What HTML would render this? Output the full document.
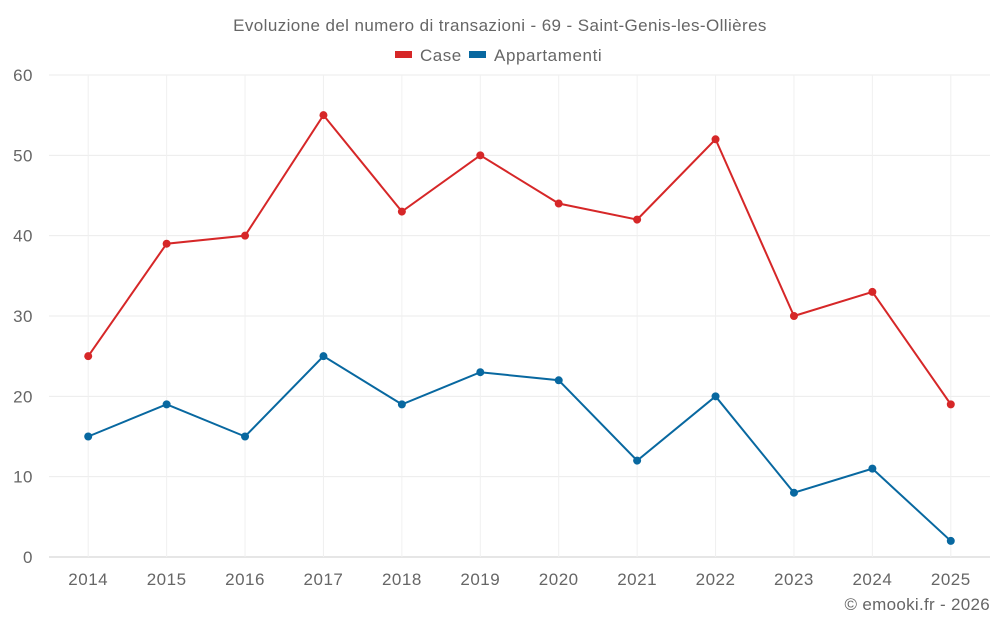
<!DOCTYPE html>
<html><head><meta charset="utf-8"><style>
body{margin:0;background:#fff;font-family:"Liberation Sans",sans-serif;}
svg text{font-family:"Liberation Sans",sans-serif;fill:#666;}
</style></head><body>
<svg id="chart" width="1000" height="625" xmlns="http://www.w3.org/2000/svg">
<text x="500" y="31" text-anchor="middle" font-size="17" letter-spacing="0.4">Evoluzione del numero di transazioni - 69 - Saint-Genis-les-Ollières</text>
<g>
<g><rect x="395" y="51" width="17" height="7" fill="#d62728"/><text x="420" y="61" font-size="17" letter-spacing="0.5">Case</text></g>
<g><rect x="469" y="51" width="17" height="7" fill="#0868a0"/><text x="494" y="61" font-size="17" letter-spacing="0.6">Appartamenti</text></g>
</g>
<g id="grid"></g><g id="axes"></g><g id="series"></g>
<text x="990" y="610" text-anchor="end" font-size="17" letter-spacing="0.3">© emooki.fr - 2026</text>
</svg>
<script>
const categories=["2014","2015","2016","2017","2018","2019","2020","2021","2022","2023","2024","2025"];
const caseValues=[25,39,40,55,43,50,44,42,52,30,33,19];
const apptValues=[15,19,15,25,19,23,22,12,20,8,11,2];
const yTicks=[0,10,20,30,40,50,60];
const NS="http://www.w3.org/2000/svg";
const L=49,R=990,T=75,B=557,yMax=60;
const bw=(R-L)/categories.length;
const x=i=>L+bw*(i+0.5);
const y=v=>B-(B-T)*v/yMax;
function mk(tag,attrs,parent){const e=document.createElementNS(NS,tag);for(const k in attrs)e.setAttribute(k,attrs[k]);parent.appendChild(e);return e;}
const grid=document.getElementById('grid'),axes=document.getElementById('axes'),ser=document.getElementById('series');
yTicks.forEach(t=>{
 const l=mk('line',{x1:L,x2:R,y1:y(t),y2:y(t),stroke:t===0?'#ccc':'#ebebeb'},grid);
 
 
 const tx=mk('text',{x:33,y:y(t)+6,'text-anchor':'end','font-size':17,'letter-spacing':0.5},axes);tx.textContent=t;
 
 
});
categories.forEach((c,i)=>{
 const l=mk('line',{x1:x(i),x2:x(i),y1:T,y2:B,stroke:'#f0f0f0'},grid);
 
 
 const tx=mk('text',{x:x(i),y:585,'text-anchor':'middle','font-size':17,'letter-spacing':0.5},axes);tx.textContent=c;
 
 
});
function draw(vals,color,name){
 const p=mk('polyline',{points:vals.map((v,i)=>x(i)+','+y(v)).join(' '),fill:'none',stroke:color,'stroke-width':2},ser);
 
 
 vals.forEach((v,i)=>{
  const c=mk('circle',{cx:x(i),cy:y(v),r:4,fill:color},ser);
  
  
 });
}
draw(caseValues,'#d62728','case');
draw(apptValues,'#0868a0','appartamenti');
</script>
</body></html>
